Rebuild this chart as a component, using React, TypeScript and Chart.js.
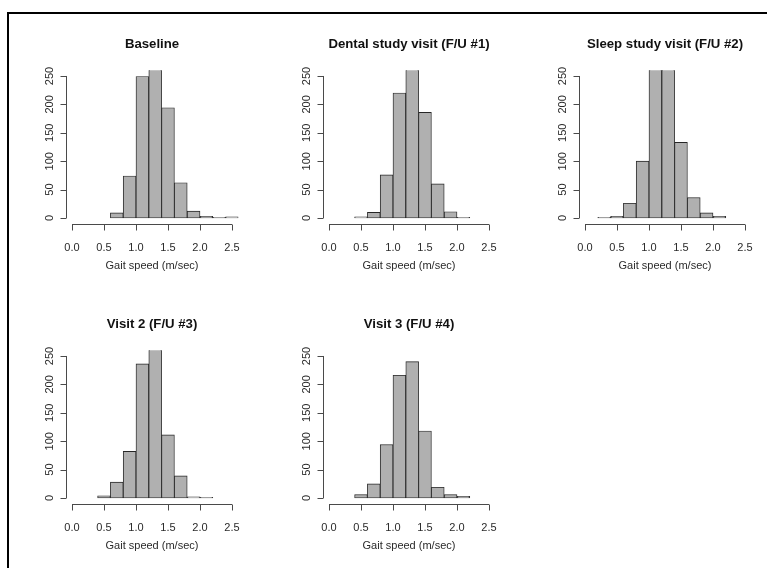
import React, { useEffect, useRef } from "react";
import { Chart, registerables } from "chart.js";

Chart.register(...registerables);

// Histogram bin centers (bin width 0.2, bins from 0.2 to 2.6)
const binCenters = [0.3, 0.5, 0.7, 0.9, 1.1, 1.3, 1.5, 1.7, 1.9, 2.1, 2.3, 2.5];

// Counts per bin (null = no bin drawn)
const baselineCounts = [null, null, 9, 74, 249, 290, 194, 62, 12, 3, 1, 2];
const dentalCounts = [null, 2, 10, 76, 220, 280, 186, 60, 11, 1, null, null];
const sleepCounts = [1, 3, 26, 100, 310, 300, 133, 36, 9, 3, null, null];
const visit2Counts = [null, 4, 28, 82, 236, 270, 111, 39, 2, 1, null, null];
const visit3Counts = [null, 6, 25, 94, 216, 240, 118, 19, 6, 3, null, null];

const panelTitles = [
  "Baseline",
  "Dental study visit (F/U #1)",
  "Sleep study visit (F/U #2)",
  "Visit 2 (F/U #3)",
  "Visit 3 (F/U #4)",
];
const panelCounts = [baselineCounts, dentalCounts, sleepCounts, visit2Counts, visit3Counts];

const xTicks = [0, 0.5, 1.0, 1.5, 2.0, 2.5];
const xTickLabels = ["0.0", "0.5", "1.0", "1.5", "2.0", "2.5"];
const yTicks = [0, 50, 100, 150, 200, 250];
const yTickLabels = ["0", "50", "100", "150", "200", "250"];
const xAxisLabel = "Gait speed (m/sec)";

const CANVAS_W = 256;
const CANVAS_H = 280;
const FONT = "'Liberation Sans', Arial, Helvetica, sans-serif";

const rAxesPlugin = {
  id: "rAxes",
  afterDraw(chart: any, _args: any, opts: any) {
    const ctx = chart.ctx;
    const xs = chart.scales.x;
    const ys = chart.scales.y;
    const area = chart.chartArea;
    ctx.save();
    ctx.strokeStyle = "#4a4a4a";
    ctx.lineWidth = 1;
    // y axis
    const yl = Math.round(area.left) + 0.5;
    ctx.beginPath();
    ctx.moveTo(yl, ys.getPixelForValue(yTicks[0]));
    ctx.lineTo(yl, ys.getPixelForValue(yTicks[yTicks.length - 1]));
    yTicks.forEach((t) => {
      const py = Math.round(ys.getPixelForValue(t)) + 0.5;
      ctx.moveTo(yl, py);
      ctx.lineTo(yl - 6, py);
    });
    ctx.stroke();
    // x axis
    const xb = Math.round(area.bottom) + 0.5;
    ctx.beginPath();
    ctx.moveTo(xs.getPixelForValue(xTicks[0]), xb);
    ctx.lineTo(xs.getPixelForValue(xTicks[xTicks.length - 1]), xb);
    xTicks.forEach((t) => {
      const px = Math.round(xs.getPixelForValue(t)) + 0.5;
      ctx.moveTo(px, xb);
      ctx.lineTo(px, xb + 6);
    });
    ctx.stroke();

    ctx.fillStyle = "#2a2a2a";
    ctx.font = `11px ${FONT}`;
    ctx.textAlign = "center";
    ctx.textBaseline = "alphabetic";
    xTicks.forEach((t, i) => {
      ctx.fillText(xTickLabels[i], xs.getPixelForValue(t), area.bottom + 27.5);
    });
    yTicks.forEach((t, i) => {
      ctx.save();
      ctx.translate(area.left - 12.3, ys.getPixelForValue(t));
      ctx.rotate(-Math.PI / 2);
      ctx.fillText(yTickLabels[i], 0, 0);
      ctx.restore();
    });
    const cx = (area.left + area.right) / 2;
    ctx.fillText(xAxisLabel, cx, area.bottom + 45);
    ctx.fillStyle = "#111";
    ctx.font = `bold 13.2px ${FONT}`;
    ctx.fillText(opts.title, cx, 48);
    ctx.restore();
  },
};

function Panel({ title, counts }: { title: string; counts: (number | null)[] }) {
  const ref = useRef<HTMLCanvasElement | null>(null);
  useEffect(() => {
    if (!ref.current) return;
    const data = binCenters.map((x, i) => ({ x, y: counts[i] }));
    const chart = new Chart(ref.current, {
      type: "bar",
      data: {
        datasets: [
          {
            data: data as any,
            backgroundColor: "#b0b0b0",
            borderColor: "#262626",
            borderWidth: 0.9,
            borderSkipped: false,
            barPercentage: 1,
            categoryPercentage: 1,
            clip: 0,
          } as any,
        ],
      },
      options: {
        animation: false,
        responsive: false,
        devicePixelRatio: 1,
        layout: { padding: { left: 65.6, top: 70.3, right: 17.6, bottom: 56.3 } },
        scales: {
          x: { type: "linear", min: -0.1, max: 2.6, display: false, offset: false },
          y: { type: "linear", min: -10, max: 260, display: false },
        },
        plugins: {
          legend: { display: false },
          tooltip: { enabled: false },
          rAxes: { title },
        } as any,
      },
      plugins: [rAxesPlugin],
    });
    return () => chart.destroy();
  }, [title, counts]);
  return (
    <canvas
      ref={ref}
      width={CANVAS_W}
      height={CANVAS_H}
      style={{ width: CANVAS_W, height: CANVAS_H, display: "block" }}
    />
  );
}

const colLeft = [0, 257, 513];
const rowTop = [0, 280];

export default function App() {
  return (
    <div
      style={{
        position: "absolute",
        left: 0,
        top: 0,
        width: 767,
        height: 568,
        overflow: "hidden",
        background: "#fff",
      }}
    >
      <div
        style={{
          position: "absolute",
          left: 7,
          top: 12,
          width: 800,
          height: 600,
          borderTop: "2px solid #000",
          borderLeft: "2px solid #000",
        }}
      />
      {panelTitles.map((t, i) => (
        <div
          key={t}
          style={{
            position: "absolute",
            left: colLeft[i % 3],
            top: rowTop[Math.floor(i / 3)],
          }}
        >
          <Panel title={t} counts={panelCounts[i]} />
        </div>
      ))}
    </div>
  );
}
